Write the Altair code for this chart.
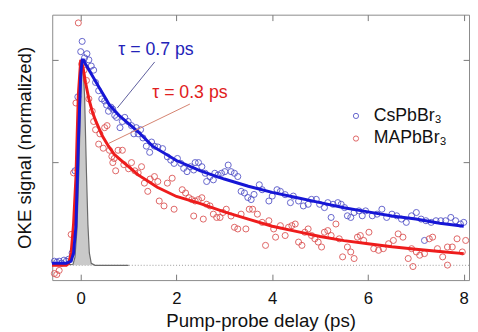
import altair as alt
import pandas as pd

# ---------------- data ----------------
series_names = ["CsPbBr₃", "MAPbBr₃"]

# CsPbBr3 measured points (delay ps, normalized signal)
blue_t = [-0.55, -0.5, -0.45, -0.4, -0.35, -0.3, -0.25, -0.18, -0.12, -0.06,
          0.0, 0.03, 0.08, 0.13, 0.17, 0.22, 0.27, 0.31, 0.375, 0.44,
          0.5, 0.54, 0.58, 0.63, 0.67, 0.71, 0.75, 0.82, 0.87, 0.92,
          0.99, 1.06, 1.11, 1.16, 1.2, 1.25, 1.3, 1.37, 1.44, 1.48,
          1.54, 1.61, 1.71, 1.81, 1.88, 1.95, 2.02, 2.09, 2.15, 2.22,
          2.29, 2.36, 2.39, 2.46, 2.53, 2.6, 2.63, 2.7, 2.77, 2.8,
          2.87, 2.94, 3.01, 3.08, 3.14, 3.21, 3.28, 3.35, 3.42, 3.49,
          3.56, 3.62, 3.73, 3.79, 3.93, 4.0, 4.1, 4.17, 4.27, 4.38,
          4.44, 4.55, 4.65, 4.75, 4.82, 4.92, 4.99, 5.09, 5.16, 5.23,
          5.27, 5.37, 5.44, 5.51, 5.57, 5.64, 5.71, 5.81, 5.88, 5.95,
          6.09, 6.19, 6.29, 6.39, 6.5, 6.6, 6.7, 6.8, 6.91, 7.01,
          7.11, 7.18, 7.21, 7.32, 7.42, 7.52, 7.62, 7.73, 7.83, 7.93, 8.0]
blue_y = [0.02, 0.015, 0.02, 0.01, 0.025, 0.02, 0.03, 0.06, 0.46, 0.82,
          1.04, 1.09, 1.01, 1.03, 1.0, 0.97, 0.95, 0.89, 0.85, 0.81,
          0.8, 0.78, 0.75, 0.77, 0.76, 0.73, 0.72, 0.67, 0.70, 0.72,
          0.70, 0.68, 0.64, 0.67, 0.64, 0.66, 0.62, 0.58, 0.55, 0.60,
          0.58, 0.576, 0.568, 0.528, 0.512, 0.496, 0.52, 0.496, 0.472, 0.456,
          0.48, 0.464, 0.50, 0.50, 0.48, 0.448, 0.408, 0.432, 0.416, 0.448,
          0.44, 0.448, 0.456, 0.488, 0.456, 0.448, 0.432, 0.36, 0.352, 0.33,
          0.32, 0.345, 0.392, 0.368, 0.313, 0.337, 0.368, 0.36, 0.344, 0.305,
          0.337, 0.313, 0.289, 0.297, 0.321, 0.321, 0.297, 0.281, 0.305, 0.233,
          0.297, 0.305, 0.297, 0.281, 0.241, 0.233, 0.257, 0.265, 0.241, 0.265,
          0.241, 0.249, 0.273, 0.233, 0.249, 0.241, 0.225, 0.209, 0.241, 0.257,
          0.225, 0.121, 0.217, 0.209, 0.217, 0.217, 0.217, 0.233, 0.217, 0.201, 0.209]

# MAPbBr3 measured points
red_t = [-0.55, -0.5, -0.45, -0.2, -0.15, -0.1, -0.05, 0.02, 0.07, 0.12,
         0.17, 0.24, 0.27, 0.31, 0.375, 0.4, 0.47, 0.5, 0.55, 0.6,
         0.65, 0.67, 0.7, 0.73, 0.78, 0.87, 0.9, 1.0, 1.06, 1.13,
         1.2, 1.27, 1.33, 1.4, 1.45, 1.54, 1.61, 1.64, 1.74, 1.81,
         1.91, 1.95, 2.12, 2.19, 2.26, 2.32, 2.36, 2.39, 2.46, 2.53,
         2.56, 2.63, 2.7, 2.77, 2.84, 2.91, 2.97, 3.04, 3.14, 3.21,
         3.28, 3.35, 3.45, 3.52, 3.59, 3.69, 3.79, 3.86, 3.93, 4.03,
         4.07, 4.17, 4.27, 4.34, 4.41, 4.48, 4.55, 4.62, 4.68, 4.75,
         4.82, 4.89, 4.96, 5.03, 5.09, 5.16, 5.23, 5.33, 5.4, 5.47,
         5.57, 5.64, 5.71, 5.78, 5.84, 5.91, 6.02, 6.12, 6.22, 6.32,
         6.43, 6.53, 6.63, 6.73, 6.84, 6.91, 6.94, 7.01, 7.08, 7.18,
         7.28, 7.35, 7.45, 7.56, 7.66, 7.66, 7.76, 7.86, 7.97, 8.04]
red_y = [-0.04, -0.045, -0.025, 0.15, 0.45, 0.79, 1.18, 0.98, 0.95, 0.90,
         0.81, 0.75, 0.70, 0.66, 0.59, 0.64, 0.57, 0.67, 0.68, 0.56,
         0.53, 0.50, 0.52, 0.46, 0.56, 0.56, 0.49, 0.47, 0.50, 0.46,
         0.45, 0.48, 0.40, 0.36, 0.42, 0.432, 0.408, 0.313, 0.289, 0.40,
         0.424, 0.273, 0.368, 0.352, 0.329, 0.32, 0.24, 0.313, 0.32, 0.329,
         0.225, 0.297, 0.289, 0.249, 0.233, 0.233, 0.257, 0.273, 0.24, 0.185,
         0.177, 0.249, 0.177, 0.273, 0.273, 0.249, 0.209, 0.097, 0.217, 0.177,
         0.137, 0.193, 0.145, 0.185, 0.193, 0.201, 0.113, 0.097, 0.161, 0.177,
         0.145, 0.129, 0.113, 0.089, 0.161, 0.169, 0.145, 0.201, 0.129, 0.041,
         0.089, 0.065, 0.033, 0.137, 0.145, 0.121, 0.161, 0.081, 0.073, 0.081,
         0.105, 0.121, 0.153, 0.137, 0.033, 0.081, -0.006, 0.065, 0.049, 0.057,
         0.129, 0.137, 0.081, 0.041, 0.089, 0.001, 0.089, 0.129, 0.065, 0.121]

# fitted curves
blue_fit_t = [-0.6, -0.3, -0.2, -0.15, -0.1, -0.05, 0.0, 0.03, 0.06, 0.1,
              0.2, 0.3, 0.4, 0.5, 0.6, 0.8, 1.0, 1.2, 1.5, 2.0,
              2.5, 3.0, 3.5, 4.0, 4.5, 5.0, 5.5, 6.0, 6.5, 7.0, 7.5, 8.0]
blue_fit_y = [0.01, 0.01, 0.02, 0.06, 0.19, 0.59, 0.93, 1.0, 1.0, 0.98,
              0.94, 0.90, 0.86, 0.82, 0.78, 0.73, 0.69, 0.65, 0.58, 0.51,
              0.46, 0.42, 0.385, 0.355, 0.33, 0.305, 0.28, 0.26, 0.24, 0.225, 0.205, 0.19]
red_fit_t = [-0.6, -0.3, -0.25, -0.2, -0.15, -0.1, -0.05, 0.0, 0.05, 0.1,
             0.17, 0.24, 0.3, 0.375, 0.45, 0.58, 0.7, 0.85, 1.0, 1.2,
             1.4, 1.6, 2.0, 2.5, 3.0, 3.5, 4.0, 4.5, 5.0, 5.5,
             6.0, 6.5, 7.0, 7.5, 8.0]
red_fit_y = [0.0, 0.0, 0.01, 0.06, 0.2, 0.43, 0.83, 1.0, 0.96, 0.89,
             0.81, 0.75, 0.71, 0.67, 0.63, 0.58, 0.54, 0.51, 0.48, 0.44,
             0.41, 0.38, 0.335, 0.30, 0.26, 0.225, 0.19, 0.165, 0.14, 0.12,
             0.105, 0.09, 0.078, 0.067, 0.057]

# instrument response (grey)
irf_t = [-0.5, -0.16, -0.12, -0.08, -0.04, 0.0, 0.04, 0.08, 0.12, 0.15, 0.18, 0.22, 0.3, 1.0]
irf_y = [0.0, 0.005, 0.04, 0.17, 0.45, 0.83, 1.0, 0.83, 0.45, 0.2, 0.06, 0.01, 0.0, 0.0]

# annotations
ann_text = ["τ = 0.7 ps", "τ = 0.3 ps"]
ann_t = [1.57, 2.28]
ann_y = [1.05, 0.837]
lead_t = [1.545, 2.28]
lead_y = [0.99, 0.785]
lead_t2 = [0.765, 0.58]
lead_y2 = [0.766, 0.593]

x_ticks = [0, 2, 4, 6, 8]
y_ticks = [0.5, 1.0]

# ---------------- styling ----------------
FONT = "Liberation Sans"
BLUE_LINE = "#1616d6"
RED_LINE = "#ee1c1c"
BLUE_PT = "#4a4ac4"
RED_PT = "#d94a4a"
ANN_COL = ["#2323b8", "#e02020"]
LEAD_COL = ["#5c5c9c", "#d4826e"]

xscale = alt.Scale(domain=[-0.595, 8.11], nice=False, zero=False)
yscale = alt.Scale(domain=[-0.072, 1.22], nice=False, zero=False)
INWARD = {"expr": "-6"}

common_axis = dict(grid=False, domain=False, tickColor="#777777", tickWidth=1,
                   labelFont=FONT, titleFont=FONT, labelColor="#111111",
                   titleColor="#111111", titleFontWeight="normal")

x_bottom = alt.Axis(orient="bottom", values=x_ticks, title="Pump-probe delay (ps)",
                    labelFontSize=17, titleFontSize=19, tickSize=INWARD,
                    labelPadding=17, titlePadding=5, **common_axis)
y_left = alt.Axis(orient="left", values=y_ticks, labels=False,
                  title="OKE signal (normalized)", titleFontSize=19,
                  tickSize=INWARD, titlePadding=18, **common_axis)
x_top = alt.Axis(orient="top", values=x_ticks, labels=False, title="",
                 tickSize=INWARD, **common_axis)
y_right = alt.Axis(orient="right", values=y_ticks, labels=False, title="",
                   tickSize=INWARD, **common_axis)

pts = pd.DataFrame({
    "t": blue_t + red_t,
    "y": blue_y + red_y,
    "series": [series_names[0]] * len(blue_t) + [series_names[1]] * len(red_t),
})
bfit = pd.DataFrame({"t": blue_fit_t, "y": blue_fit_y})
rfit = pd.DataFrame({"t": red_fit_t, "y": red_fit_y})
irf = pd.DataFrame({"t": irf_t, "y": irf_y})
ann = pd.DataFrame({"t": ann_t, "y": ann_y, "label": ann_text, "c": ANN_COL})
lead = pd.DataFrame({"t": lead_t, "y": lead_y, "t2": lead_t2, "y2": lead_y2, "c": LEAD_COL})


def X(axis=None):
    return alt.X("t:Q", scale=xscale, axis=axis)


def Y(axis=None):
    return alt.Y("y:Q", scale=yscale, axis=axis)


baseline = alt.Chart(pd.DataFrame({"y": [0]})).mark_rule(
    color="#9a9a9a", strokeWidth=1, strokeDash=[1, 2]
).encode(y=Y())

irf_area = alt.Chart(irf).mark_area(color="#c9c9c9", opacity=1).encode(x=X(), y=Y())
irf_line = alt.Chart(irf).mark_line(color="#6a6a6a", strokeWidth=1.2).encode(x=X(), y=Y())

scatter = alt.Chart(pts).mark_point(
    shape="circle", filled=False, size=38, strokeWidth=1, opacity=0.85
).encode(
    x=X(x_bottom),
    y=Y(y_left),
    color=alt.Color(
        "series:N",
        scale=alt.Scale(domain=series_names, range=[BLUE_PT, RED_PT]),
        legend=alt.Legend(
            title="", orient="none", legendX=300, legendY=94, padding=0,
            labelFont=FONT, labelFontSize=18, labelColor="#111111",
            labelOffset=9, symbolType="circle", symbolSize=28,
            symbolStrokeWidth=1, rowPadding=5, symbolFillColor="transparent",
        ),
    ),
)

blue_line = alt.Chart(bfit).mark_line(color=BLUE_LINE, strokeWidth=3).encode(x=X(x_top), y=Y(y_right))
red_line = alt.Chart(rfit).mark_line(color=RED_LINE, strokeWidth=3).encode(x=X(), y=Y())

leaders = alt.Chart(lead).mark_rule(strokeWidth=1).encode(
    x=X(), y=Y(), x2="t2:Q", y2="y2:Q", color=alt.Color("c:N", scale=None)
)
labels = alt.Chart(ann).mark_text(font=FONT, fontSize=18, align="center", baseline="middle").encode(
    x=X(), y=Y(), text="label:N", color=alt.Color("c:N", scale=None)
)

chart = alt.layer(
    baseline, irf_area, irf_line, scatter, red_line, blue_line, leaders, labels
).resolve_axis(x="independent", y="independent").properties(
    width=424, height=270,
    autosize=alt.AutoSizeParams(type="none"),
    padding={"left": 45, "top": 4, "right": 1, "bottom": 50},
).configure_view(stroke="#8a8a8a", strokeWidth=1)

chart.save("out.html", embed_options={"renderer": "svg", "actions": False})
